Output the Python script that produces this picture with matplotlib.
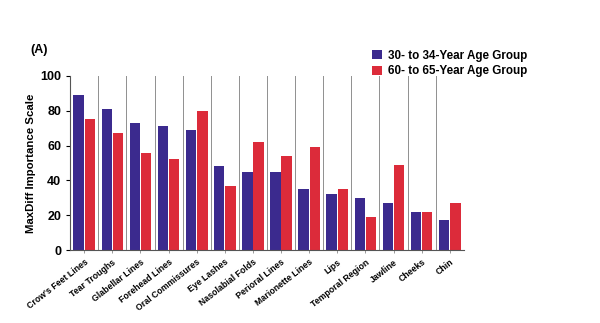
import matplotlib
matplotlib.use("Agg")
import matplotlib.pyplot as plt
import numpy as np

plt.rcParams["font.family"] = ["Liberation Sans", "DejaVu Sans"]
plt.rcParams["font.weight"] = "bold"

categories = ["Crow's Feet Lines", "Tear Troughs", "Glabellar Lines", "Forehead Lines",
              "Oral Commissures", "Eye Lashes", "Nasolabial Folds", "Perioral Lines",
              "Marionette Lines", "Lips", "Temporal Region", "Jawline", "Cheeks", "Chin"]
young = [89, 81, 73, 71, 69, 48, 45, 45, 35, 32, 30, 27, 22, 17]
old = [75, 67, 56, 52, 80, 37, 62, 54, 59, 35, 19, 49, 22, 27]
series_names = ["30- to 34-Year Age Group", "60- to 65-Year Age Group"]
colors = ["#3b2a8e", "#dc2b3a"]

x = np.arange(len(categories))
width = 0.37

fig = plt.figure(figsize=(6, 3.23), dpi=100)
ax = fig.add_axes([0.117, 0.226, 0.656, 0.539])

# separators between category groups
for b in np.arange(len(categories) + 1)[1:-1] - 0.5:
    ax.plot([b, b], [0, 100], color="#8f8f8f", lw=0.7, zorder=1)

ax.bar(x - 0.2, young, width, color=colors[0], label=series_names[0], zorder=2)
ax.bar(x + 0.2, old, width, color=colors[1], label=series_names[1], zorder=2)

ax.set_xlim(-0.5, len(categories) - 0.5)
ax.set_ylim(0, 100)
ax.set_yticks(range(0, 101, 20))
ax.tick_params(axis="y", labelsize=9, length=3, width=0.8)
ax.set_xticks(x)
ax.set_xticklabels(categories, rotation=38, ha="right", rotation_mode="anchor", fontsize=6.3)
ax.tick_params(axis="x", length=2, width=0.6, color="#888888")
ax.set_ylabel("MaxDiff Importance Scale", fontsize=8.2, fontweight="bold", labelpad=3)
ax.spines["top"].set_visible(False)
ax.spines["right"].set_visible(False)
ax.spines["left"].set_color("#555555")
ax.spines["bottom"].set_color("#555555")

fig.text(0.05, 0.835, "(A)", fontsize=9, fontweight="bold")

fig.legend(loc="upper left", bbox_to_anchor=(0.613, 0.86), frameon=False, fontsize=8.4,
           handlelength=0.85, handleheight=0.85, handletextpad=0.5, labelspacing=0.3,
           borderaxespad=0)

fig.savefig("out.png", dpi=100)
